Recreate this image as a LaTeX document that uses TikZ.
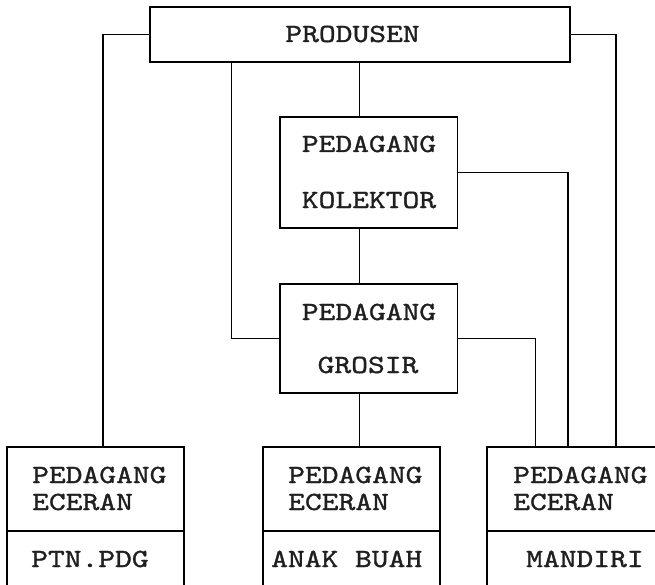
\documentclass[tikz,border=0pt]{standalone}
\usepackage{fontspec}
\newfontfamily\typw{lmmono10-regular.otf}[FakeStretch=1.22, FakeBold=1.2]
\begin{document}
\begin{tikzpicture}[x=1pt,y=-1pt,
  box/.style={draw=black, line width=1.9pt, rectangle, inner sep=0pt, outer sep=0pt, anchor=north west},
  lbl/.style={font=\typw\fontsize{26.2}{26.2}\selectfont, inner sep=0pt, text=black!88},
  link/.style={line width=1.9pt}]
\path[use as bounding box] (0,0) rectangle (655,585);
\clip (0,0) rectangle (655,585);
\fill[white] (0,0) rectangle (655,585);
% boxes
\node[box, minimum width=420pt, minimum height=55pt] (prod) at (150,7) {};
\node[box, minimum width=177.5pt, minimum height=111pt] (kol) at (280,117) {};
\node[box, minimum width=177.5pt, minimum height=109pt] (gro) at (280,284) {};
\node[box, minimum width=177pt, minimum height=84pt] (pe1) at (7,447) {};
\node[box, minimum width=177pt, minimum height=75pt] (pe1b) at (7,531) {};
\node[box, minimum width=177pt, minimum height=84pt] (pe2) at (263,447) {};
\node[box, minimum width=177pt, minimum height=75pt] (pe2b) at (263,531) {};
\node[box, minimum width=177pt, minimum height=84pt] (pe3) at (487,447) {};
\node[box, minimum width=177pt, minimum height=75pt] (pe3b) at (487,531) {};
% texts
\node[lbl, anchor=base] (tprod) at (352.5,42) {PRODUSEN};
\node[lbl, anchor=base] (tkol1) at (369,152) {PEDAGANG};
\node[lbl, anchor=base] (tkol2) at (369,208) {KOLEKTOR};
\node[lbl, anchor=base] (tgro1) at (369,320) {PEDAGANG};
\node[lbl, anchor=base] (tgro2) at (368,373) {GROSIR};
\node[lbl, anchor=base west] (t11) at (32,483) {PEDAGANG};
\node[lbl, anchor=base west] (t12) at (32,510) {ECERAN};
\node[lbl, anchor=base west] (t13) at (31,567) {PTN.PDG};
\node[lbl, anchor=base west] (t21) at (288,483) {PEDAGANG};
\node[lbl, anchor=base west] (t22) at (288,510) {ECERAN};
\node[lbl, anchor=base west] (t23) at (271,567) {ANAK BUAH};
\node[lbl, anchor=base west] (t31) at (513,483) {PEDAGANG};
\node[lbl, anchor=base west] (t32) at (513,510) {ECERAN};
\node[lbl, anchor=base west] (t33) at (526,567) {MANDIRI};
% connector x positions
\coordinate (xL) at (103,0);
\coordinate (xR) at (616,0);
\coordinate (xA) at (231.5,0);
\coordinate (xC) at (359.5,0);
\coordinate (xK) at (568,0);
\coordinate (xG) at (535.5,0);
% connectors
\draw[link] (prod.west) -| (xL |- pe1.north);
\draw[link] (prod.east) -| (xR |- pe3.north);
\draw[link] (xA |- prod.south) |- (gro.west);
\draw[link] (xC |- prod.south) -- (xC |- kol.north);
\draw[link] (kol.east) -| (xK |- pe3.north);
\draw[link] (xC |- kol.south) -- (xC |- gro.north);
\draw[link] (gro.east) -| (xG |- pe3.north);
\draw[link] (xC |- gro.south) -- (xC |- pe2.north);
\end{tikzpicture}
\end{document}
